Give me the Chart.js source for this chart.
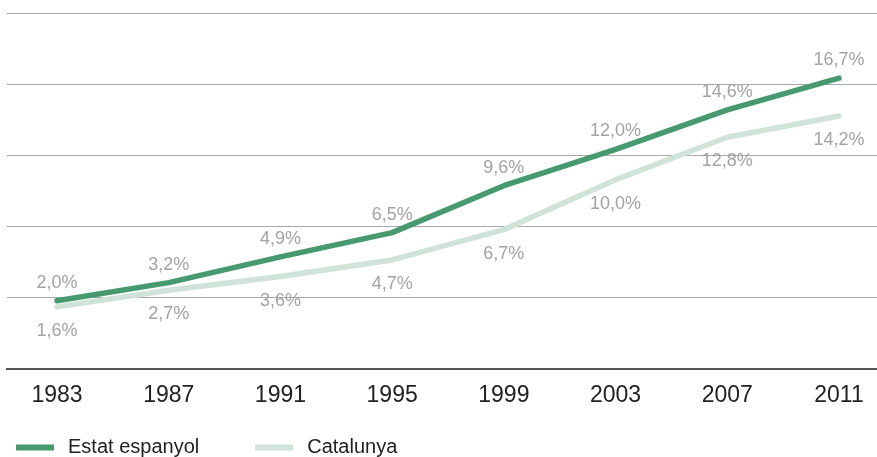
<!DOCTYPE html>
<html>
<head>
<meta charset="utf-8">
<script src="https://cdn.jsdelivr.net/npm/chart.js@4/dist/chart.umd.min.js"></script>
<style>
  html, body { margin: 0; padding: 0; background: #ffffff; }
  #wrap { width: 877px; height: 457px; position: relative; }
</style>
</head>
<body>
<div id="wrap"><canvas id="c" width="877" height="457"></canvas></div>
<script>
const years = [1983, 1987, 1991, 1995, 1999, 2003, 2007, 2011];
const yearLabels = ['1983', '1987', '1991', '1995', '1999', '2003', '2007', '2011'];
const estatEspanyol = [2.0, 3.2, 4.9, 6.5, 9.6, 12.0, 14.6, 16.7];
const catalunya = [1.6, 2.7, 3.6, 4.7, 6.7, 10.0, 12.8, 14.2];
const seriesNames = ['Estat espanyol', 'Catalunya'];
const gridValues = [-2.5, 2.2, 6.9, 11.6, 16.3, 21.0];

const GREEN = '#479a6f';
const LIGHT = '#cfe3d9';
const FONT = '"Liberation Sans", Arial, Helvetica, sans-serif';

function fmt(v) { return v.toFixed(1).replace('.', ',') + '%'; }

const valueLabels = {
  id: 'valueLabels',
  afterDatasetsDraw(chart) {
    const ctx = chart.ctx;
    ctx.save();
    ctx.font = '18px ' + FONT;
    ctx.fillStyle = '#a3a3a3';
    ctx.textAlign = 'center';
    ctx.textBaseline = 'middle';
    chart.data.datasets.forEach((ds, di) => {
      const meta = chart.getDatasetMeta(di);
      meta.data.forEach((pt, i) => {
        const dy = di === 0 ? -18 : 24;
        ctx.fillText(fmt(ds.data[i].y), pt.x, pt.y + dy);
      });
    });
    ctx.restore();
  }
};

const customLegend = {
  id: 'customLegend',
  afterDraw(chart) {
    const ctx = chart.ctx;
    ctx.save();
    ctx.font = '20px ' + FONT;
    ctx.textBaseline = 'middle';
    ctx.textAlign = 'left';
    let x = 16;
    const y = 447.5;
    chart.data.datasets.forEach((ds) => {
      ctx.fillStyle = ds.borderColor;
      ctx.fillRect(x, y - 3, 38, 6);
      ctx.fillStyle = '#222222';
      ctx.fillText(ds.label, x + 52, y);
      x += 52 + ctx.measureText(ds.label).width + 56;
    });
    ctx.restore();
  }
};

const toPoints = (arr) => arr.map((v, i) => ({ x: years[i], y: v }));

new Chart(document.getElementById('c'), {
  type: 'line',
  data: {
    datasets: [
      {
        label: seriesNames[0],
        data: toPoints(estatEspanyol),
        borderColor: GREEN,
        backgroundColor: GREEN,
        borderWidth: 5.5,
        pointRadius: 0,
        borderCapStyle: 'round',
        borderJoinStyle: 'round',
        tension: 0,
        order: 1
      },
      {
        label: seriesNames[1],
        data: toPoints(catalunya),
        borderColor: LIGHT,
        backgroundColor: LIGHT,
        borderWidth: 5.5,
        pointRadius: 0,
        borderCapStyle: 'round',
        borderJoinStyle: 'round',
        tension: 0,
        order: 2
      }
    ]
  },
  options: {
    responsive: false,
    animation: false,
    devicePixelRatio: 1,
    layout: { padding: { left: 7, right: 0, top: 13, bottom: 0 } },
    plugins: {
      legend: { display: false },
      tooltip: { enabled: false }
    },
    scales: {
      x: {
        type: 'linear',
        min: 1981.21,
        max: 2012.36,
        afterBuildTicks(scale) {
          scale.ticks = years.map(v => ({ value: v }));
        },
        afterFit(scale) { scale.height = 88; },
        grid: { display: false, drawTicks: false },
        border: { display: true, color: '#555555', width: 2 },
        ticks: {
          padding: 13,
          color: '#222222',
          font: { family: FONT, size: 23 },
          maxRotation: 0,
          autoSkip: false,
          callback: (v) => yearLabels[years.indexOf(v)] || ''
        }
      },
      y: {
        type: 'linear',
        min: gridValues[0],
        max: gridValues[gridValues.length - 1],
        afterBuildTicks(scale) {
          scale.ticks = gridValues.map(v => ({ value: v }));
        },
        afterFit(scale) { scale.width = 0; },
        grid: { color: '#a8a8a8', lineWidth: 1, drawTicks: false },
        border: { display: false },
        ticks: { display: false }
      }
    }
  },
  plugins: [valueLabels, customLegend]
});
</script>
</body>
</html>
